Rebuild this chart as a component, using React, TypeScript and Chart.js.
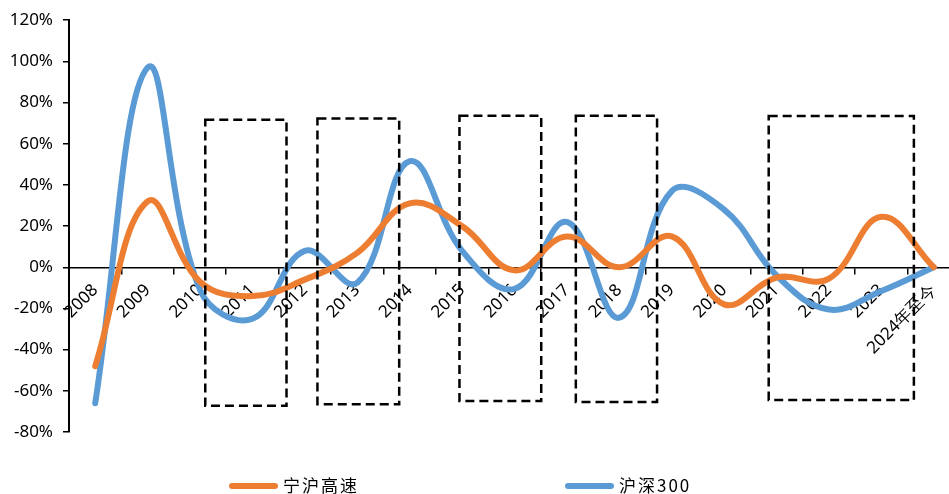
import { useEffect, useRef } from "react";
import { Chart, registerables } from "chart.js";

Chart.register(...registerables);

const categories = [
  "2008", "2009", "2010", "2011", "2012", "2013", "2014", "2015", "2016",
  "2017", "2018", "2019", "2020", "2021", "2022", "2023", "2024年至今",
];
const ningHuLabel = "宁沪高速";
const huShenLabel = "沪深300";
const ningHu = [-48, 32, -7, -14, -6, 7, 31, 20, -1.5, 15, 0, 15, -18, -5, -5.5, 24.5, 0];
const huShen = [-66, 97, -11, -25, 8, -7.5, 51.5, 8, -10.5, 22, -24.5, 37, 28, -4, -20.5, -11.5, 0];

const yMin = -80;
const yMax = 120;
const yStep = 20;

// highlighted periods (category index units, value units)
const boxStart = [2.1, 4.24, 6.95, 9.17, 12.85];
const boxEnd = [3.65, 5.8, 8.51, 10.72, 15.62];
const boxTop = [71.7, 72.3, 73.6, 73.6, 73.5];
const boxBottom = [-67.3, -66.5, -65, -65.4, -64.5];

const ORANGE = "#ED7D31";
const BLUE = "#5B9BD5";

const boxesPlugin = {
  id: "boxes",
  afterDraw(chart: any) {
    const { ctx } = chart;
    const xs = chart.scales.x;
    const ys = chart.scales.y;
    ctx.save();
    ctx.strokeStyle = "#000";
    ctx.lineWidth = 2.5;
    ctx.setLineDash([9, 5]);
    for (let i = 0; i < boxStart.length; i++) {
      const x0 = xs.getPixelForValue(boxStart[i]);
      const x1 = xs.getPixelForValue(boxEnd[i]);
      const y0 = ys.getPixelForValue(boxTop[i]);
      const y1 = ys.getPixelForValue(boxBottom[i]);
      ctx.strokeRect(x0, y0, x1 - x0, y1 - y0);
    }
    ctx.restore();
  },
};

const legendPlugin = {
  id: "customLegend",
  afterDraw(chart: any) {
    const { ctx } = chart;
    const starts = [229, 565];
    const y = 486;
    ctx.save();
    chart.data.datasets.forEach((ds: any, i: number) => {
      const x = starts[i];
      ctx.strokeStyle = ds.borderColor;
      ctx.lineWidth = 6;
      ctx.lineCap = "round";
      ctx.setLineDash([]);
      ctx.beginPath();
      ctx.moveTo(x + 3, y);
      ctx.lineTo(x + 46, y);
      ctx.stroke();
      ctx.fillStyle = "#000";
      ctx.font = '17px "Noto Sans CJK SC"';
      (ctx as any).letterSpacing = "2px";
      ctx.textBaseline = "middle";
      ctx.textAlign = "left";
      ctx.fillText(ds.label, x + 54, y);
    });
    ctx.restore();
  },
};

export default function App() {
  const ref = useRef<HTMLCanvasElement>(null);
  useEffect(() => {
    if (!ref.current) return;
    const chart = new Chart(ref.current, {
      type: "line",
      data: {
        labels: categories,
        datasets: [
          {
            label: ningHuLabel,
            data: ningHu,
            borderColor: ORANGE,
            backgroundColor: ORANGE,
            borderWidth: 6,
            pointRadius: 0,
            tension: 0.4,
            borderCapStyle: "round",
            borderJoinStyle: "round",
          },
          {
            label: huShenLabel,
            data: huShen,
            borderColor: BLUE,
            backgroundColor: BLUE,
            borderWidth: 6,
            pointRadius: 0,
            tension: 0.4,
            borderCapStyle: "round",
            borderJoinStyle: "round",
          },
        ],
      },
      options: {
        animation: false,
        responsive: true,
        maintainAspectRatio: false,
        layout: { padding: { top: 18, bottom: 62, left: 0, right: 0 } },
        plugins: { legend: { display: false }, tooltip: { enabled: false } },
        scales: {
          x: {
            type: "category",
            position: { y: 0 } as any,
            offset: true,
            grid: {
              offset: true,
              drawOnChartArea: false,
              drawTicks: true,
              tickLength: 6,
              color: "#000",
              lineWidth: 1.5,
            },
            border: { color: "#000", width: 1.5 },
            ticks: {
              color: "#000",
              font: { family: "Noto Sans", size: 17 },
              maxRotation: 45,
              minRotation: 45,
              autoSkip: false,
              padding: 7,
            },
          },
          y: {
            min: yMin,
            max: yMax,
            afterFit(scale: any) {
              scale.width = 69;
            },
            grid: {
              drawOnChartArea: false,
              drawTicks: true,
              tickLength: 6,
              color: "#000",
              lineWidth: 1.5,
            },
            border: { color: "#000", width: 2 },
            ticks: {
              stepSize: yStep,
              color: "#000",
              padding: 10,
              font: { family: "Noto Sans", size: 17 },
              callback: (v: any) => `${v}%`,
            },
          },
        },
      },
      plugins: [boxesPlugin, legendPlugin],
    });
    return () => chart.destroy();
  }, []);
  return (
    <div style={{ position: "fixed", left: 0, top: 0, width: 949, height: 494, overflow: "hidden", background: "#fff" }}>
      <div style={{ position: "relative", width: 960, height: 494 }}>
        <canvas ref={ref} />
      </div>
    </div>
  );
}
